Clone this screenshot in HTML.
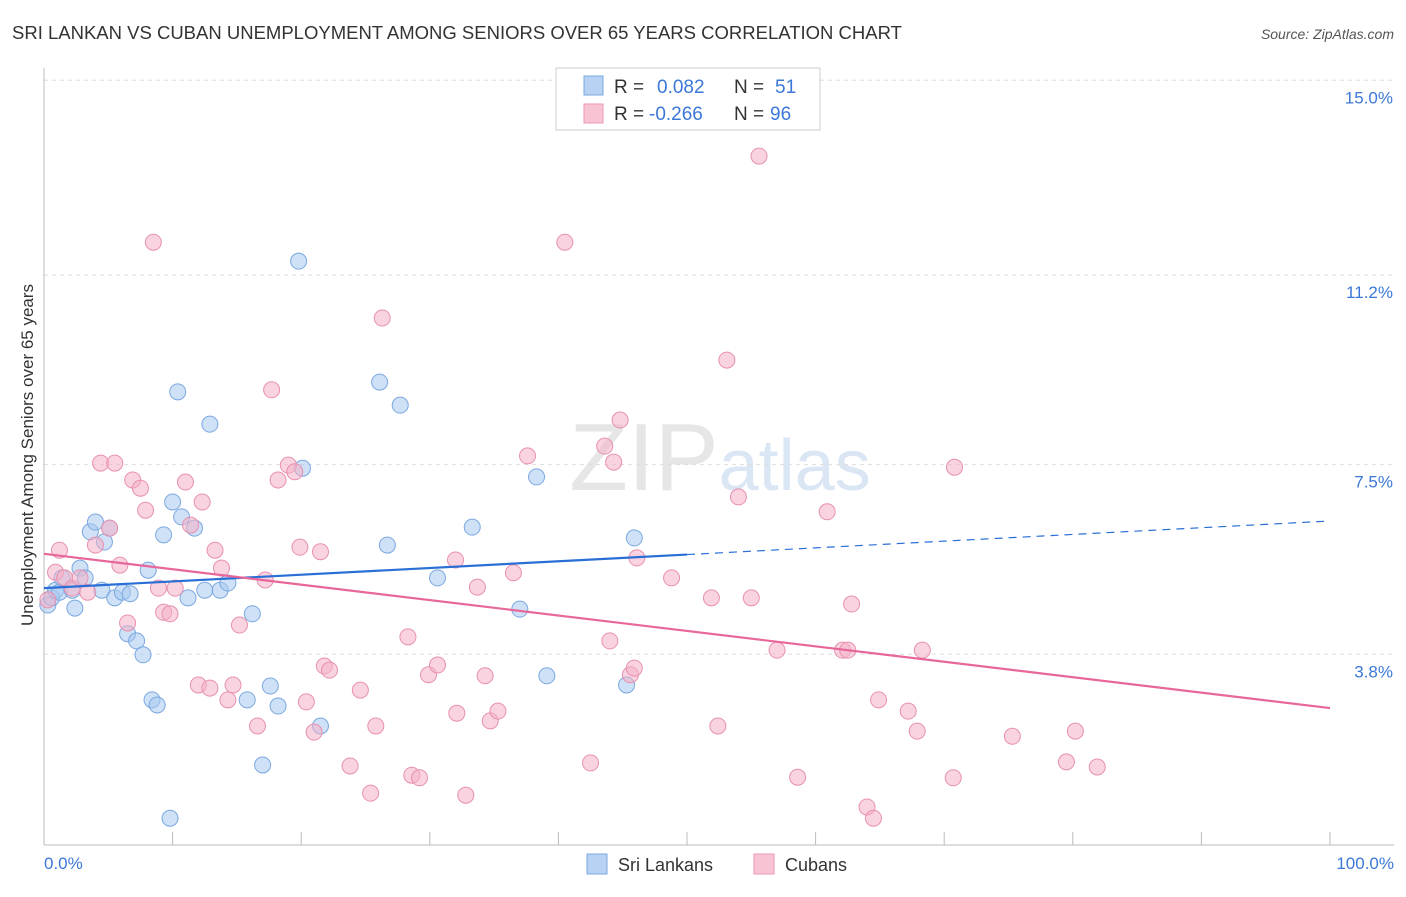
<!DOCTYPE html>
<html><head><meta charset="utf-8"><style>
body{margin:0;background:#fff;font-family:"Liberation Sans",sans-serif;}
svg text{font-family:"Liberation Sans",sans-serif;}
</style></head><body>
<svg id="chart" width="1406" height="892" xmlns="http://www.w3.org/2000/svg">
<text x="12" y="39" font-size="18.5" fill="#333">SRI LANKAN VS CUBAN UNEMPLOYMENT AMONG SENIORS OVER 65 YEARS CORRELATION CHART</text>
<text x="1394" y="39" font-size="14" fill="#555" text-anchor="end" font-style="italic">Source: ZipAtlas.com</text>
<text x="720" y="490" font-size="96" fill="#e6e6e6" text-anchor="middle" font-family="Liberation Serif">ZIP<tspan fill="#dbe6f5" font-family="Liberation Sans" font-size="72">atlas</tspan></text>
<g id="grid"></g>
<g id="axes"></g>
<g id="marks"></g>
<g id="trends"></g>
<text transform="translate(33,455) rotate(-90)" font-size="17" fill="#333" text-anchor="middle">Unemployment Among Seniors over 65 years</text>
<text x="44" y="869" font-size="17" fill="#3b78d8">0.0%</text>
<text x="1394" y="869" font-size="17" fill="#3b78d8" text-anchor="end">100.0%</text>
<g>
<rect x="556" y="68" width="264" height="62" fill="#fff" stroke="#ccc"/>
<rect x="584" y="76" width="19" height="19" fill="#b8d2f4" stroke="#7aa8e0"/>
<rect x="584" y="104" width="19" height="19" fill="#f8c4d4" stroke="#eb97b5"/>
<text x="614" y="93" font-size="19" fill="#333">R = <tspan fill="#3b78d8" x="657">0.082</tspan><tspan x="734">N = </tspan><tspan fill="#3b78d8" x="775">51</tspan></text>
<text x="614" y="120" font-size="19" fill="#333">R = <tspan fill="#3b78d8" x="649">-0.266</tspan><tspan x="734">N = </tspan><tspan fill="#3b78d8" x="770">96</tspan></text>
</g>
<g>
<rect x="587" y="854" width="20" height="20" fill="#b8d2f4" stroke="#7aa8e0"/>
<text x="618" y="871" font-size="18" fill="#333">Sri Lankans</text>
<rect x="754" y="854" width="20" height="20" fill="#f8c4d4" stroke="#eb97b5"/>
<text x="785" y="871" font-size="18" fill="#333">Cubans</text>
</g>
</svg>
<script>
const yTicks=[3.8,7.5,11.2,15.0];
const yTickLabels=["3.8%","7.5%","11.2%","15.0%"];
const xTicks=[0,10,20,30,40,50,60,70,80,90,100];
const sriX=[0.3,0.6,0.9,1.2,1.4,2.2,2.4,2.8,3.2,3.6,4.0,4.5,4.7,5.1,5.5,6.1,6.5,6.7,7.2,7.7,8.1,8.4,8.8,9.3,9.8,10.0,10.4,10.7,11.2,11.7,12.5,12.9,13.7,14.3,15.8,16.2,17.0,17.6,18.2,19.8,20.1,21.5,26.1,26.7,27.7,30.6,33.3,37.0,38.3,39.1,45.3,45.9];
const sriY=[4.76,4.90,5.05,5.01,5.29,5.05,4.70,5.48,5.29,6.19,6.38,5.05,5.99,6.26,4.90,5.01,4.20,4.98,4.06,3.79,5.44,2.91,2.81,6.13,0.60,6.77,8.92,6.48,4.90,6.26,5.05,8.29,5.05,5.19,2.91,4.59,1.64,3.18,2.79,11.47,7.43,2.40,9.11,5.93,8.66,5.29,6.28,4.68,7.26,3.38,3.20,6.07];
const cubX=[0.3,0.9,1.2,1.6,2.2,2.8,3.4,4.0,4.4,5.1,5.5,5.9,6.5,6.9,7.5,7.9,8.5,8.9,9.3,9.8,10.2,11.0,11.4,12.0,12.3,12.9,13.3,13.8,14.3,14.7,15.2,16.6,17.2,17.7,18.2,19.0,19.5,19.9,20.4,21.0,21.5,21.8,22.2,23.8,24.6,25.4,25.8,26.3,28.3,28.6,29.2,29.9,30.6,32.1,32.0,32.8,33.7,34.3,34.7,35.3,36.5,37.6,40.5,42.5,43.6,44.0,44.3,44.8,45.6,45.9,46.1,48.8,51.9,52.4,53.1,54.0,55.0,55.6,57.0,58.6,60.9,62.1,62.5,62.8,64.0,64.5,64.9,67.2,67.9,68.3,70.7,70.8,75.3,79.5,80.2,81.9];
const cubY=[4.86,5.40,5.83,5.29,5.09,5.29,5.01,5.93,7.53,6.26,7.53,5.54,4.41,7.20,7.04,6.61,11.84,5.09,4.62,4.59,5.09,7.16,6.32,3.20,6.77,3.14,5.83,5.48,2.91,3.20,4.37,2.40,5.25,8.96,7.20,7.49,7.36,5.89,2.87,2.28,5.80,3.57,3.49,1.62,3.10,1.09,2.40,10.36,4.14,1.44,1.39,3.40,3.59,2.65,5.64,1.05,5.11,3.38,2.50,2.69,5.39,7.67,11.84,1.68,7.86,4.06,7.55,8.37,3.40,3.53,5.68,5.29,4.90,2.40,9.54,6.87,4.90,13.52,3.88,1.40,6.58,3.88,3.88,4.78,0.82,0.60,2.91,2.69,2.30,3.88,1.39,7.45,2.20,1.70,2.30,1.60];
const sriTrend=[5.09,6.40];
const sriSolidEnd=50;
const cubTrend=[5.76,2.75];
(function(){
const NS="http://www.w3.org/2000/svg";
const sx=v=>44+v*12.86;
const sy=v=>849-v*51.25;
function mk(tag,attrs,parent){const e=document.createElementNS(NS,tag);for(const k in attrs)e.setAttribute(k,attrs[k]);parent.appendChild(e);return e;}
const grid=document.getElementById('grid'),axes=document.getElementById('axes'),marks=document.getElementById('marks'),trends=document.getElementById('trends');
yTicks.forEach((t,i)=>{
 const l=mk('line',{x1:44,x2:1394,y1:sy(t),y2:sy(t),stroke:'#ddd','stroke-dasharray':'4,4'},grid);
 
 
 const tx=mk('text',{x:1393,y:sy(t)+23,'font-size':17,fill:'#3b78d8','text-anchor':'end'},grid);
 tx.textContent=yTickLabels[i];
 
 
});
const ya=mk('line',{x1:44,x2:44,y1:68,y2:845,stroke:'#bbb'},axes);


const xa=mk('line',{x1:44,x2:1394,y1:845,y2:845,stroke:'#bbb'},axes);


xTicks.forEach(t=>{
 const l=mk('line',{x1:sx(t),x2:sx(t),y1:832,y2:845,stroke:'#bbb'},axes);
 
 
});
function pts(X,Y,fill,stroke,name){X.forEach((x,i)=>{
 const c=mk('circle',{cx:sx(x),cy:sy(Y[i]),r:8,fill:fill,'fill-opacity':0.55,stroke:stroke,'stroke-width':1},marks);
 
 
});}
pts(sriX,sriY,'#a8c8f0','#7aa8e0','sri-lankan-point');
pts(cubX,cubY,'#f4b0c6','#e890b0','cuban-point');
const ty=(tr,x)=>tr[0]+(tr[1]-tr[0])*x/100;
const b1=mk('line',{x1:sx(0),y1:sy(ty(sriTrend,0)),x2:sx(sriSolidEnd),y2:sy(ty(sriTrend,sriSolidEnd)),stroke:'#2a6fd6','stroke-width':2.2},trends);


const b2=mk('line',{x1:sx(sriSolidEnd),y1:sy(ty(sriTrend,sriSolidEnd)),x2:sx(100),y2:sy(ty(sriTrend,100)),stroke:'#2a6fd6','stroke-width':1.2,'stroke-dasharray':'8,6'},trends);


const p1=mk('line',{x1:sx(0),y1:sy(ty(cubTrend,0)),x2:sx(100),y2:sy(ty(cubTrend,100)),stroke:'#e8679a','stroke-width':2.2},trends);


})();
</script>
</body></html>
